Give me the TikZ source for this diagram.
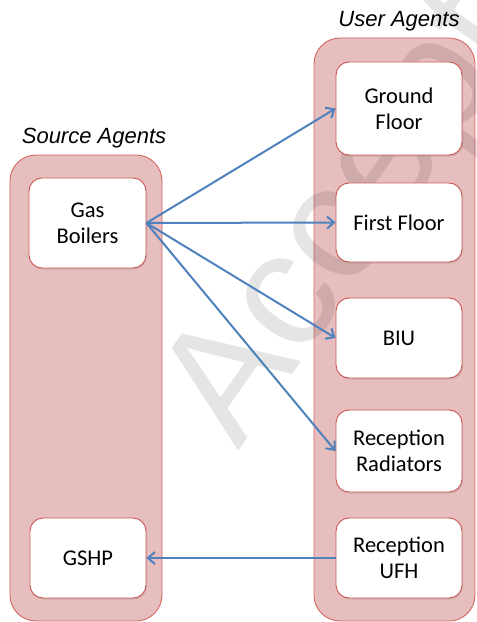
\documentclass[tikz,border=0pt]{standalone}
\usepackage{fontspec}
\setmainfont{Carlito}
\newfontfamily\titlefont{Liberation Sans}
\usetikzlibrary{arrows.meta,shadows}
\definecolor{contfill}{RGB}{230,190,190}
\definecolor{contdraw}{RGB}{212,102,98}
\definecolor{boxdraw}{RGB}{205,85,80}
\definecolor{arrowblue}{RGB}{79,129,189}
\tikzset{
  container/.style={draw=contdraw, line width=0.9bp, fill=contfill, rounded corners=26bp, inner sep=0pt},
  agentbox/.style={draw=boxdraw, line width=0.9bp, fill=white, rounded corners=13bp, inner sep=0pt,
    align=center, font=\fontsize{22.5bp}{26bp}\selectfont,
    drop shadow={opacity=0.25, shadow xshift=1bp, shadow yshift=-1.5bp}},
  grouptitle/.style={font=\titlefont\itshape\fontsize{22bp}{26bp}\selectfont, inner sep=0pt},
  flow/.style={draw=arrowblue, line width=2bp, -{Straight Barb[length=7bp,width=12bp,line width=2bp]}},
  watermark/.style={font=\titlefont\fontsize{165bp}{165bp}\selectfont, text=black, opacity=0.1, inner sep=0pt}
}
\begin{document}
\begin{tikzpicture}[x=1bp,y=-1bp]
\useasboundingbox (0,0) rectangle (477,622);
\begin{scope}
\clip (0,0) rectangle (477,622);
% containers
\node[container, minimum width=152bp, minimum height=466bp] (src) at (86,388) {};
\node[container, minimum width=161bp, minimum height=583bp] (usr) at (394.5,329.5) {};
% watermark
\node[watermark, rotate=55, anchor=base west] (wm) at (238,452) {Accepted};
\end{scope}
% titles
\node[grouptitle] (srctitle) at (94,138) {Source Agents};
\node[grouptitle] (usrtitle) at (399,21) {User Agents};
% boxes
\node[agentbox, minimum width=117bp, minimum height=90bp] (gas) at (87.5,223) {Gas\\Boilers};
\node[agentbox, minimum width=116bp, minimum height=80bp] (gshp) at (88,558) {GSHP};
\node[agentbox, minimum width=126bp, minimum height=93bp] (ground) at (399,108.5) {Ground\\Floor};
\node[agentbox, minimum width=126bp, minimum height=79bp] (first) at (399,222.5) {First Floor};
\node[agentbox, minimum width=126bp, minimum height=80bp] (biu) at (399,338) {BIU};
\node[agentbox, minimum width=126bp, minimum height=82bp] (rad) at (399,451) {Reception\\Radiators};
\node[agentbox, minimum width=126bp, minimum height=80bp] (ufh) at (399,558) {Reception\\UFH};
% connectors
\draw[flow] (gas.east) -- (ground.west);
\draw[flow] (gas.east) -- (first.west);
\draw[flow] (gas.east) -- (biu.west);
\draw[flow] (gas.east) -- (rad.west);
\draw[flow] (ufh.west) -- (gshp.east);
\end{tikzpicture}
\end{document}
